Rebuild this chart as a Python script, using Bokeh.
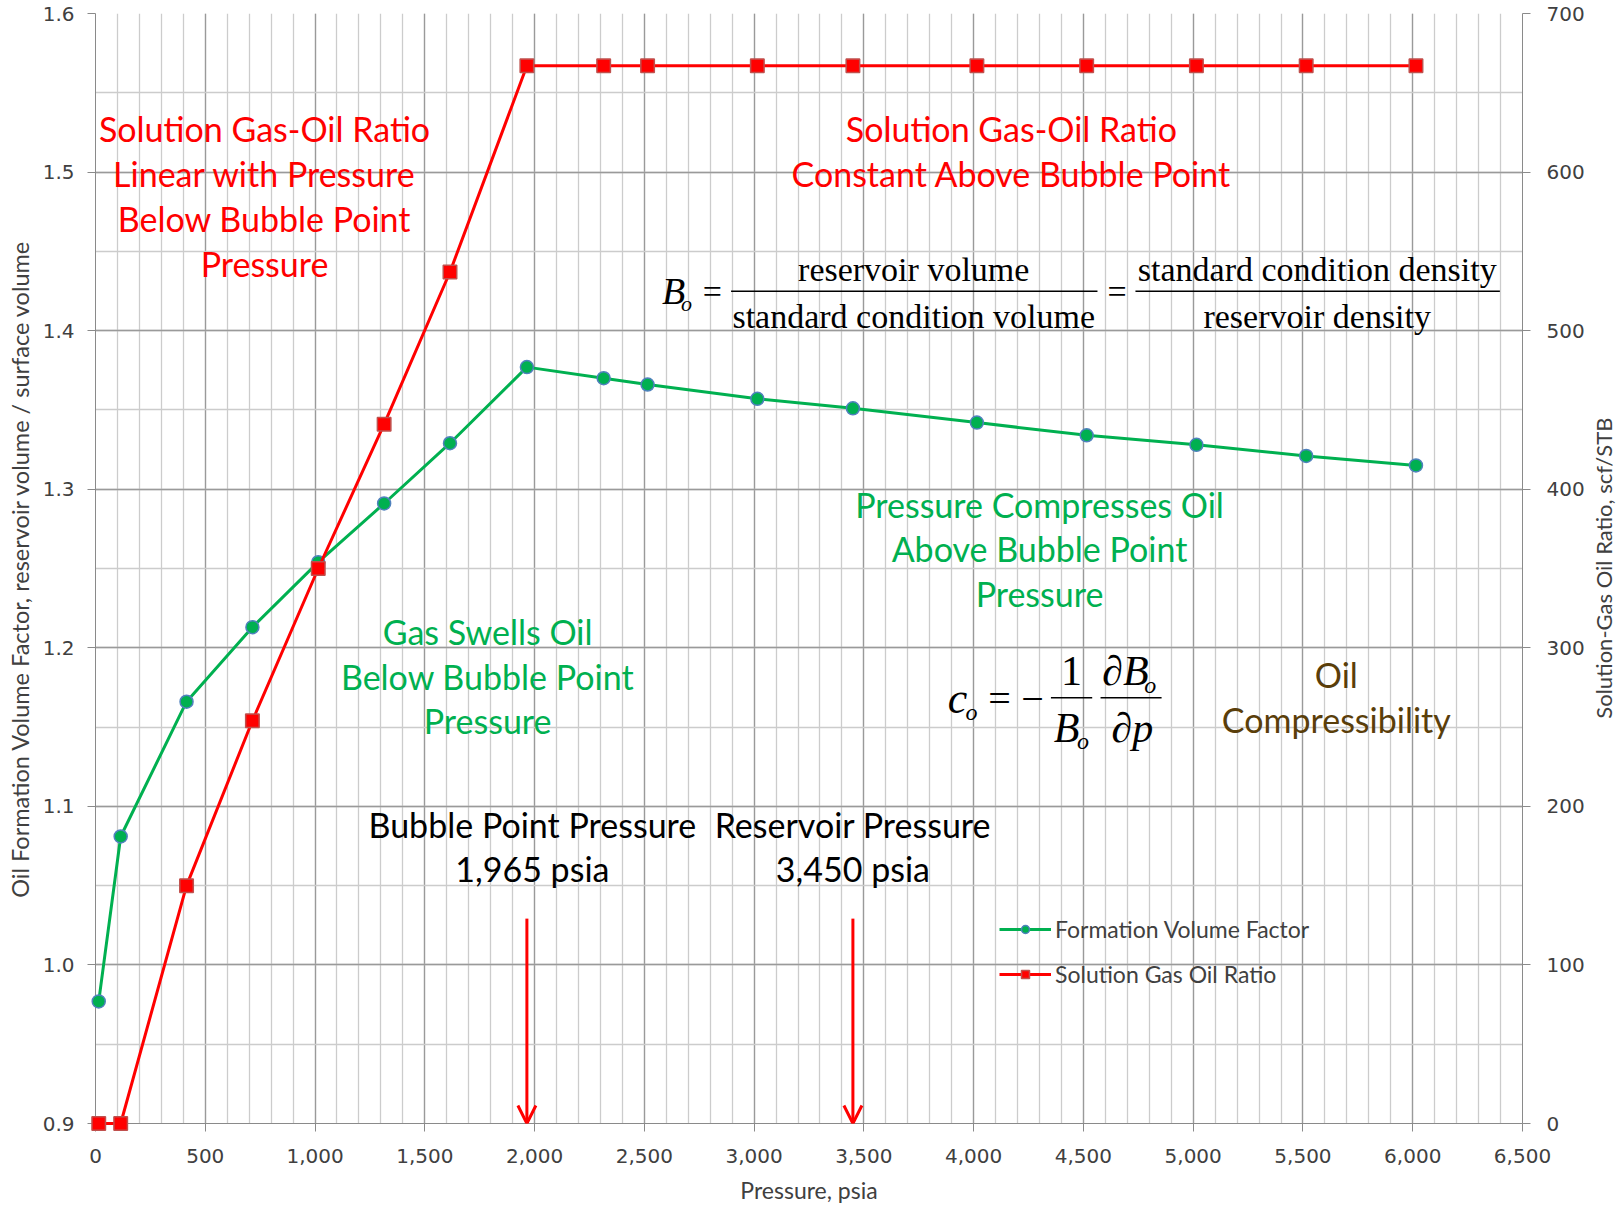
import math

from bokeh.plotting import figure
from bokeh.core.properties import value
from bokeh.models import (Range1d, LinearAxis, NumeralTickFormatter, SingleIntervalTicker,
                          Legend, LegendItem, Label, Arrow, OpenHead)
from bokeh.embed import file_html
from bokeh.resources import INLINE

# Oil PVT data vs pressure
pressure_psia = [14.7, 114.7, 414.7, 714.7, 1014.7, 1314.7, 1614.7, 1965,
                 2314.7, 2514.7, 3014.7, 3450, 4014.7, 4514.7, 5014.7, 5514.7, 6014.7]
formation_volume_factor = [0.977, 1.081, 1.166, 1.213, 1.254, 1.291, 1.329, 1.377,
                           1.370, 1.366, 1.357, 1.351, 1.342, 1.334, 1.328, 1.321, 1.315]
solution_gor = [0, 0, 150, 254, 350, 441, 537, 667,
                667, 667, 667, 667, 667, 667, 667, 667, 667]

bubble_point_psia = 1965
reservoir_pressure_psia = 3450

GREEN = "#00b050"
RED = "#ff0000"
BROWN = "#5a3e0a"
SANS = "Lato"
SERIF = "Liberation Serif"

p = figure(width=1618, height=1206, output_backend="svg", toolbar_location=None,
           x_range=Range1d(0, 6500), y_range=Range1d(0.9, 1.6),
           min_border_left=95, min_border_right=96, min_border_top=13, min_border_bottom=83)
p.outline_line_color = None
p.background_fill_color = "white"
p.extra_y_ranges = {"gor": Range1d(0, 700)}

# axes
p.xaxis.ticker = SingleIntervalTicker(interval=500, num_minor_ticks=5)
p.xaxis.formatter = NumeralTickFormatter(format="0,0")
p.xaxis.axis_label = "Pressure, psia"
p.yaxis.ticker = SingleIntervalTicker(interval=0.1, num_minor_ticks=2)
p.yaxis.formatter = NumeralTickFormatter(format="0.0")
p.yaxis.axis_label = "Oil Formation Volume Factor, reservoir volume / surface volume"

right = LinearAxis(y_range_name="gor",
                   ticker=SingleIntervalTicker(interval=100, num_minor_ticks=2))
p.add_layout(right, "right")

for ax in p.xaxis + p.yaxis + [right]:
    ax.axis_line_color = "#8a8a8a"
    ax.major_tick_line_color = "#8a8a8a"
    ax.major_tick_out = 8
    ax.major_tick_in = 0
    ax.minor_tick_line_color = None
    ax.major_label_text_font = "DejaVu Sans"
    ax.major_label_text_font_size = "20px"
    ax.major_label_text_color = "#404040"
    ax.axis_label_text_font = SANS
    ax.axis_label_text_font_style = "normal"
    ax.axis_label_text_color = "#404040"

p.xaxis.major_label_standoff = 17
p.xaxis.axis_label_standoff = 10
p.xaxis.axis_label_text_font_size = "23px"
p.yaxis.major_label_standoff = 13
p.yaxis.axis_label_standoff = 6
p.yaxis.axis_label_text_font_size = "23.5px"
right.major_label_standoff = 16

# title of the secondary (right) axis, reading bottom-to-top like the left one
p.text(x=[6869], y=[1.2502], text=["Solution-Gas Oil Ratio, scf/STB"], angle=math.pi / 2,
       text_font=value(SANS), text_font_size="22px", text_color="#404040",
       text_align="center", text_baseline="middle", level="overlay")

# grid
p.xgrid.grid_line_color = "#9a9a9a"
p.xgrid.minor_grid_line_color = "#cccccc"
p.ygrid.grid_line_color = "#9a9a9a"
p.ygrid.minor_grid_line_color = "#cccccc"
p.xgrid.minor_grid_line_width = 1.3
p.ygrid.minor_grid_line_width = 1.3
p.xgrid.grid_line_width = 1.3
p.ygrid.grid_line_width = 1.3

# series
bo_line = p.line(pressure_psia, formation_volume_factor, line_color=GREEN, line_width=3,
                 level="overlay")
bo_pts = p.scatter(pressure_psia, formation_volume_factor, marker="circle", size=13,
                   fill_color=GREEN, line_color="#4f81bd", line_width=1.5, level="overlay")
rs_line = p.line(pressure_psia, solution_gor, line_color=RED, line_width=3,
                 y_range_name="gor", level="overlay")
rs_pts = p.scatter(pressure_psia, solution_gor, marker="square", size=13.5,
                   fill_color=RED, line_color="#c0504d", line_width=1.5,
                   y_range_name="gor", level="overlay")

legend = Legend(items=[LegendItem(label="Formation Volume Factor", renderers=[bo_line, bo_pts]),
                       LegendItem(label="Solution Gas Oil Ratio", renderers=[rs_line, rs_pts])],
                location=(904, 135), orientation="vertical",
                glyph_width=52, glyph_height=20, label_height=20, label_standoff=4,
                spacing=17, padding=0, margin=0,
                border_line_color=None, background_fill_alpha=0,
                label_text_font=SANS, label_text_font_size="23px", label_text_color="#404040")
p.add_layout(legend)


def note(text, x, y, color, size="34px", font=SANS, style="normal", align="center"):
    p.add_layout(Label(x=x, y=y, text=text, text_color=color, text_font=font,
                       text_font_size=size, text_font_style=style,
                       text_align=align, text_baseline="middle"))


# annotations
for i, line in enumerate(["Solution Gas-Oil Ratio", "Linear with Pressure",
                          "Below Bubble Point", "Pressure"]):
    note(line, 770, 1.5275 - 0.0284 * i, RED)
for i, line in enumerate(["Solution Gas-Oil Ratio", "Constant Above Bubble Point"]):
    note(line, 4172, 1.5275 - 0.0284 * i, RED)
for i, line in enumerate(["Pressure Compresses Oil", "Above Bubble Point", "Pressure"]):
    note(line, 4300, 1.2905 - 0.0281 * i, GREEN)
for i, line in enumerate(["Gas Swells Oil", "Below Bubble Point", "Pressure"]):
    note(line, 1786, 1.2100 - 0.0280 * i, GREEN)
note("Oil", 5652, 1.1830, BROWN)
note("Compressibility", 5652, 1.1550, BROWN)

note("Bubble Point Pressure", 1990, 1.0885, "black")
note(f"{bubble_point_psia:,} psia", 1990, 1.0610, "black")
note("Reservoir Pressure", reservoir_pressure_psia, 1.0885, "black")
note(f"{reservoir_pressure_psia:,} psia", reservoir_pressure_psia, 1.0610, "black")

for xp in (bubble_point_psia, reservoir_pressure_psia):
    p.add_layout(Arrow(end=OpenHead(size=18, line_color=RED, line_width=3),
                       x_start=xp, y_start=1.0292, x_end=xp, y_end=0.9,
                       line_color=RED, line_width=3))

# B_o definition
note("B", 2633, 1.4249, "black", size="38px", font=SERIF, style="italic")
note("o", 2692, 1.4173, "black", size="22px", font=SERIF, style="italic")
note("=", 2810, 1.4249, "black", size="34px", font=SERIF)
note("reservoir volume", 3727, 1.4386, "black", size="34px", font=SERIF)
note("standard condition volume", 3727, 1.4092, "black", size="34px", font=SERIF)
note("=", 4653, 1.4249, "black", size="34px", font=SERIF)
note("standard condition density", 5565, 1.4386, "black", size="34px", font=SERIF)
note("reservoir density", 5565, 1.4092, "black", size="34px", font=SERIF)
p.segment(x0=[2895, 4737], y0=[1.4249, 1.4249], x1=[4564, 6397], y1=[1.4249, 1.4249],
          line_color="black", line_width=1.5)

# c_o definition
note("c", 3926, 1.1678, "black", size="44px", font=SERIF, style="italic")
note("o", 3990, 1.1594, "black", size="24px", font=SERIF, style="italic")
note("=", 4118, 1.1678, "black", size="40px", font=SERIF)
note("\u2212", 4268, 1.1678, "black", size="40px", font=SERIF)
note("1", 4446, 1.1854, "black", size="42px", font=SERIF)
note("B", 4423, 1.1496, "black", size="42px", font=SERIF, style="italic")
note("o", 4498, 1.1411, "black", size="24px", font=SERIF, style="italic")
note("\u2202B", 4691, 1.1854, "black", size="42px", font=SERIF, style="italic")
note("o", 4804, 1.1764, "black", size="24px", font=SERIF, style="italic")
note("\u2202p", 4723, 1.1496, "black", size="42px", font=SERIF, style="italic")
p.segment(x0=[4352, 4578], y0=[1.1685, 1.1685], x1=[4540, 4856], y1=[1.1685, 1.1685],
          line_color="black", line_width=1.5)

open("out.html", "w").write(file_html(p, INLINE))
